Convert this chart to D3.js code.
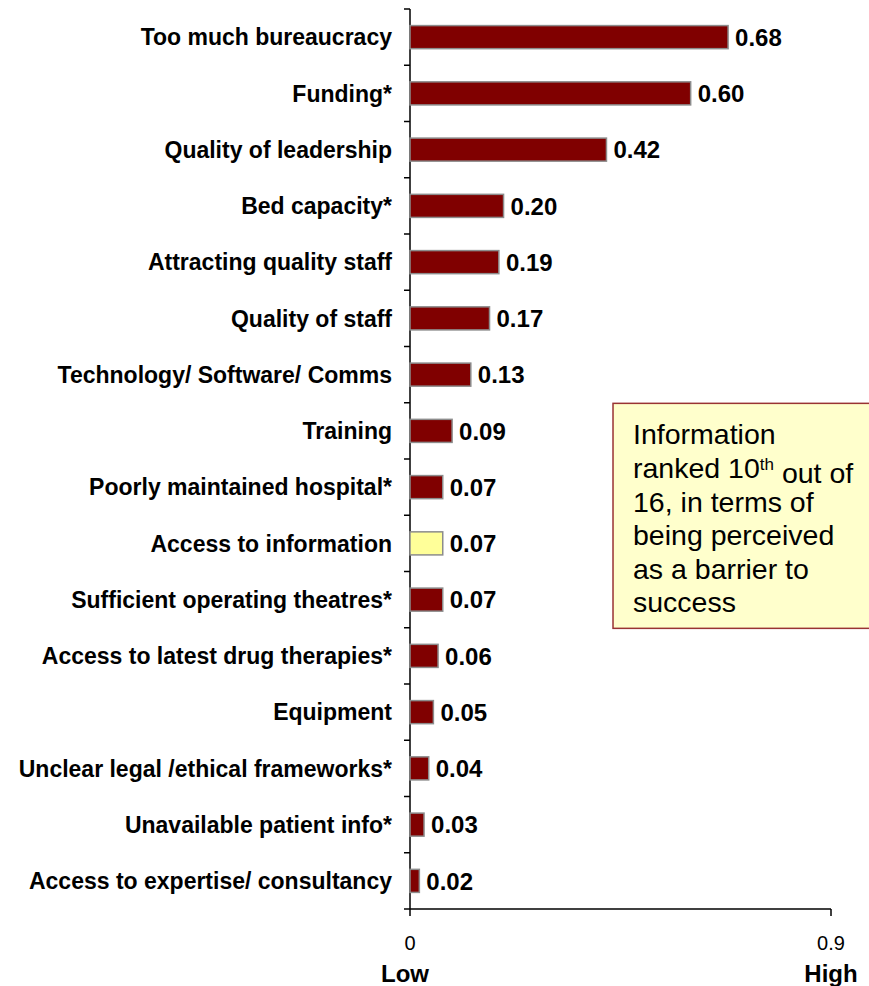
<!DOCTYPE html>
<meta charset="utf-8">
<style>
  body { margin: 0; background: #fff; }
  text { font-family: "Liberation Sans", Arial, sans-serif; }
</style>
<script src="https://d3js.org/d3.v7.min.js"></script>

<div id="my_dataviz"></div>

<script>
    // data
    var categories = ["Too much bureaucracy", "Funding*", "Quality of leadership", "Bed capacity*",
        "Attracting quality staff", "Quality of staff", "Technology/ Software/ Comms", "Training",
        "Poorly maintained hospital*", "Access to information", "Sufficient operating theatres*",
        "Access to latest drug therapies*", "Equipment", "Unclear legal /ethical frameworks*",
        "Unavailable patient info*", "Access to expertise/ consultancy"];
    var values = [0.68, 0.60, 0.42, 0.20, 0.19, 0.17, 0.13, 0.09, 0.07, 0.07, 0.07, 0.06, 0.05, 0.04, 0.03, 0.02];
    var highlighted = ["Access to information"];
    var xTicks = [0, 0.9];
    var xEndLabels = ["Low", "High"];
    var noteLines = ["Information", "ranked 10|th| out of", "16, in terms of", "being perceived", "as a barrier to", "success"];

    var data = categories.map(function(c, i) { return {name: c, value: values[i]}; });

    var margin = {top: 9, right: 38, bottom: 77, left: 410},
        width = 869 - margin.left - margin.right,
        height = 986 - margin.top - margin.bottom;

    var svg = d3.select("#my_dataviz")
        .append("svg")
        .attr("width", 869)
        .attr("height", 986)
        .append("g")
        .attr("transform", "translate(" + margin.left + "," + margin.top + ")");

    var x = d3.scaleLinear()
        .domain([0, 0.9])
        .range([0, width]);

    var y = d3.scaleBand()
        .domain(categories)
        .range([0, height])
        .paddingInner(0.59)
        .paddingOuter(0.295);

    // y axis: line plus ticks at band edges
    var step = y.step();
    svg.append("line")
        .attr("x1", 0).attr("x2", 0)
        .attr("y1", 0).attr("y2", height)
        .attr("stroke", "#000").attr("stroke-width", 1.5);
    svg.selectAll(".ytick")
        .data(d3.range(categories.length + 1))
        .enter()
        .append("line")
        .attr("x1", -6).attr("x2", 0)
        .attr("y1", function(i) { return i * step; })
        .attr("y2", function(i) { return i * step; })
        .attr("stroke", "#000").attr("stroke-width", 1.5);

    // x axis
    svg.append("line")
        .attr("x1", 0).attr("x2", width)
        .attr("y1", height).attr("y2", height)
        .attr("stroke", "#000").attr("stroke-width", 1.5);
    svg.selectAll(".xtick")
        .data(xTicks)
        .enter()
        .append("line")
        .attr("x1", function(d) { return x(d); })
        .attr("x2", function(d) { return x(d); })
        .attr("y1", height).attr("y2", height + 7)
        .attr("stroke", "#000").attr("stroke-width", 1.5);
    svg.selectAll(".xlab")
        .data(xTicks)
        .enter()
        .append("text")
        .attr("x", function(d) { return x(d); })
        .attr("y", height + 41)
        .attr("text-anchor", "middle")
        .style("font-size", "20px")
        .text(function(d) { return d; });
    svg.selectAll(".xend")
        .data(xEndLabels)
        .enter()
        .append("text")
        .attr("x", function(d, i) { return x(xTicks[i]) - (i === 0 ? 5 : 0); })
        .attr("y", height + 73)
        .attr("text-anchor", "middle")
        .style("font-size", "24px")
        .style("font-weight", "bold")
        .text(function(d) { return d; });

    // category labels
    svg.selectAll(".cat")
        .data(data)
        .enter()
        .append("text")
        .attr("x", -18)
        .attr("y", function(d) { return y(d.name) + y.bandwidth() / 2; })
        .attr("text-anchor", "end")
        .attr("dy", "0.36em")
        .style("font-size", "23px")
        .style("font-weight", "bold")
        .text(function(d) { return d.name; });

    // Bars
    svg.selectAll("mybar")
        .data(data)
        .enter()
        .append("rect")
        .attr("x", 0)
        .attr("y", function(d) { return y(d.name); })
        .attr("width", function(d) { return x(d.value); })
        .attr("height", y.bandwidth())
        .attr("fill", function(d) { return highlighted.indexOf(d.name) >= 0 ? "#ffff99" : "#800000"; })
        .attr("stroke", "#8c8c8c")
        .attr("stroke-width", 1.5);

    // value labels
    svg.selectAll(".val")
        .data(data)
        .enter()
        .append("text")
        .attr("x", function(d) { return x(d.value) + 7; })
        .attr("y", function(d) { return y(d.name) + y.bandwidth() / 2; })
        .attr("dy", "0.36em")
        .style("font-size", "24px")
        .style("font-weight", "bold")
        .text(function(d) { return d.value.toFixed(2); });

    // note box
    var note = svg.append("g")
        .attr("transform", "translate(" + x(0.434) + "," + (y("Training") - 16) + ")");
    note.append("rect")
        .attr("x", 0).attr("y", 0)
        .attr("width", 270).attr("height", 225)
        .attr("fill", "#ffffcc")
        .attr("stroke", "#993333")
        .attr("stroke-width", 1.5);
    var nt = note.selectAll(".note")
        .data(noteLines)
        .enter()
        .append("text")
        .attr("x", 20)
        .attr("y", function(d, i) { return 41 + i * 33.6; })
        .style("font-size", "28.5px");
    nt.each(function(d) {
        var parts = d.split("|");
        var t = d3.select(this);
        t.append("tspan").text(parts[0]);
        if (parts.length > 1) {
            t.append("tspan").attr("dy", "-0.45em").style("font-size", "17px").text(parts[1]);
            t.append("tspan").attr("dy", "0.45em").text(parts[2]);
        }
    });
</script>
